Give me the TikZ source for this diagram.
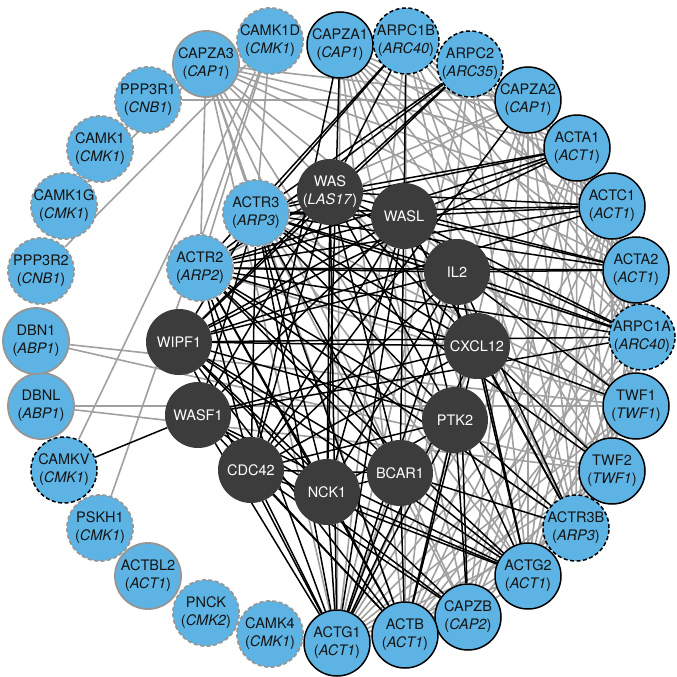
\documentclass[tikz,border=0pt]{standalone}
\usepackage{fontspec}
\setmainfont{TeX Gyre Heros}
\pgfdeclarelayer{bg}
\pgfdeclarelayer{edges}
\pgfsetlayers{bg,edges,main}
\definecolor{nodeblue}{RGB}{93,180,228}
\definecolor{darknode}{RGB}{60,60,60}
\definecolor{edgegray}{RGB}{160,160,160}
\definecolor{bordergray}{RGB}{150,150,150}
\definecolor{labelink}{RGB}{20,20,20}
\newcommand\glab[2]{\makebox[50pt]{#1}\\\makebox[50pt]{(\textit{#2})}}
\tikzset{
  basenode/.style={circle, minimum size=66pt, inner sep=0pt, align=center,
    font=\fontsize{14.5}{18}\selectfont},
  bsolid/.style={basenode, fill=nodeblue, draw=black, line width=1.5pt, text=labelink},
  bdash/.style={basenode, fill=nodeblue, draw=black, line width=1.5pt, dash pattern=on 4pt off 2.5pt, text=labelink},
  gsolid/.style={basenode, fill=nodeblue, draw=bordergray, line width=1.8pt, text=labelink},
  gdash/.style={basenode, fill=nodeblue, draw=bordergray, line width=1.8pt, dash pattern=on 4pt off 2.5pt, text=labelink},
  darkn/.style={basenode, fill=darknode, text=white},
  gedge/.style={draw=edgegray, line width=1.6pt},
  kedge/.style={draw=black, line width=1.5pt},
}
\begin{document}
\begin{tikzpicture}[x=1pt,y=-1pt]
\begin{pgfonlayer}{bg}
\fill[white] (0,0) rectangle (677,677);
\end{pgfonlayer}
\useasboundingbox (0,0) rectangle (677,677);
% outer ring
\node[bsolid] (capza1) at (340,45) {\glab{CAPZA1}{CAP1}};
\node[bdash]  (arpc1b) at (406,41) {\glab{ARPC1B}{ARC40}};
\node[bdash]  (arpc2)  at (470,64) {\glab{ARPC2}{ARC35}};
\node[bsolid] (capza2) at (528,100) {\glab{CAPZA2}{CAP1}};
\node[bsolid] (acta1)  at (577,148) {\glab{ACTA1}{ACT1}};
\node[bsolid] (actc1)  at (612,206) {\glab{ACTC1}{ACT1}};
\node[bsolid] (acta2)  at (636,270) {\glab{ACTA2}{ACT1}};
\node[bdash]  (arpc1a) at (642,337) {\glab{ARPC1A}{ARC40}};
\node[bsolid] (twf1)   at (636,406) {\glab{TWF1}{TWF1}};
\node[bsolid] (twf2)   at (612,471) {\glab{TWF2}{TWF1}};
\node[bdash]  (actr3b) at (576,528) {\glab{ACTR3B}{ARP3}};
\node[bsolid] (actg2)  at (528,576) {\glab{ACTG2}{ACT1}};
\node[bsolid] (capzb)  at (468,617) {\glab{CAPZB}{CAP2}};
\node[bsolid] (actb)   at (405,635) {\glab{ACTB}{ACT1}};
\node[bsolid] (actg1)  at (337,643) {\glab{ACTG1}{ACT1}};
\node[gdash]  (camk4)  at (270,634) {\glab{CAMK4}{CMK1}};
\node[gdash]  (pnck)   at (206,613) {\glab{PNCK}{CMK2}};
\node[gsolid] (actbl2) at (148,576) {\glab{ACTBL2}{ACT1}};
\node[gdash]  (pskh1)  at (100,528) {\glab{PSKH1}{CMK1}};
\node[bdash]  (camkv)  at (64,470) {\glab{CAMKV}{CMK1}};
\node[gsolid] (dbnl)   at (41,406) {\glab{DBNL}{ABP1}};
\node[gsolid] (dbn1)   at (36,341) {\glab{DBN1}{ABP1}};
\node[gdash]  (ppp3r2) at (41,271) {\glab{PPP3R2}{CNB1}};
\node[gdash]  (camk1g) at (64,206) {\glab{CAMK1G}{CMK1}};
\node[gdash]  (camk1)  at (100,149) {\glab{CAMK1}{CMK1}};
\node[gdash]  (ppp3r1) at (148,100) {\glab{PPP3R1}{CNB1}};
\node[gsolid] (capza3) at (206,64) {\glab{CAPZA3}{CAP1}};
\node[gdash]  (camk1d) at (270,41) {\glab{CAMK1D}{CMK1}};
% inner ring
\node[darkn] (was)    at (330,192) {\glab{WAS}{LAS17}};
\node[darkn] (wasl)   at (404,216) {WASL};
\node[darkn] (il2)    at (457,272) {IL2};
\node[darkn] (cxcl12) at (477,346) {CXCL12};
\node[darkn] (ptk2)   at (455,420) {PTK2};
\node[darkn] (bcar1)  at (400,473) {BCAR1};
\node[darkn] (nck1)   at (327,492) {NCK1};
\node[darkn] (cdc42)  at (251,470) {CDC42};
\node[darkn] (wasf1)  at (198,415) {WASF1};
\node[darkn] (wipf1)  at (179,342) {WIPF1};
\node[gdash] (actr2)  at (200,268) {\glab{ACTR2}{ARP2}};
\node[gdash] (actr3)  at (256,213) {\glab{ACTR3}{ARP3}};
\begin{pgfonlayer}{edges}
% gray edges
\foreach \a/\b in {camk1/capza3, camk1g/capza3, ppp3r2/camk1d, camkv/camk1d, pskh1/camk1d,
  ppp3r1/capza2, dbn1/twf1, dbn1/twf2, dbnl/twf1, dbnl/twf2,
  capza3/capza2, capza3/actr3, capza3/actr2, capza3/acta1, capza3/actc1, capza3/acta2,
  capza3/twf1, capza3/twf2, capza3/actg2, capza3/capzb, capza3/actb, capza3/actg1,
  camk1d/actr2, camk1d/actr3,
  acta1/acta2, acta1/actg2, acta1/actb, acta1/actg1, actc1/actg2, actc1/actb, actc1/actg1,
  acta2/actb, acta2/actg1, actg2/actg1, acta2/actg2,
  arpc1b/arpc1a, arpc1b/actr3b, arpc2/arpc1a, arpc2/actr3b, arpc1a/actr3b,
  capza1/capzb, capza2/capzb, capza1/twf1, capza1/twf2, capza2/twf2, capzb/twf1, capzb/twf2,
  capza1/arpc1a, capza1/actr3b, capza2/actr3b, arpc1b/twf2,
  actr3/twf1, actr3/capzb, actr2/twf1, actr2/actr3b, actr3/actg2, actr2/capza2, actr3/capza2, actr2/acta2, actr3/arpc1a}
  \draw[gedge] (\a) -- (\b);
\foreach \a in {acta1, actc1, acta2, actg2, actb, actg1}
  \foreach \b in {arpc1b, arpc2, arpc1a, actr3b, capza1, capza2, capzb, twf1, twf2}
    \draw[gedge] (\a) -- (\b);
% black edges
\foreach \a/\b in {was/wipf1, was/cdc42, was/nck1, was/ptk2, was/cxcl12, was/il2, was/bcar1, was/wasf1,
  wasl/wipf1, wasl/cdc42, wasl/nck1, wasl/ptk2, wasl/bcar1, wasl/wasf1, wasl/cxcl12,
  il2/wipf1, il2/cdc42, il2/nck1, cxcl12/wipf1, cxcl12/cdc42, cxcl12/wasf1,
  ptk2/cdc42, ptk2/wipf1, ptk2/nck1, bcar1/nck1, bcar1/cdc42, bcar1/wipf1, nck1/wipf1, nck1/wasf1,
  actr3/was, actr3/wasl, actr3/il2, actr3/cxcl12, actr3/ptk2, actr3/bcar1, actr3/nck1, actr3/wipf1, actr3/wasf1, actr3/cdc42,
  actr2/was, actr2/wasl, actr2/il2, actr2/cxcl12, actr2/ptk2, actr2/bcar1, actr2/nck1, actr2/cdc42,
  capza1/cdc42, capza1/nck1,
  arpc1b/actr3, arpc1b/actr2, arpc1b/wasl, arpc1b/was,
  arpc2/actr3, arpc2/actr2, arpc2/was, arpc2/wipf1,
  capza2/cdc42,
  acta1/was, acta1/actr3, acta1/actr2, acta1/wipf1, acta1/wasl,
  actc1/was, actc1/wasl, actc1/actr3, actc1/actr2, actc1/wipf1,
  acta2/was, acta2/wasl, acta2/actr3, acta2/actr2, acta2/il2,
  arpc1a/wipf1, arpc1a/wasl, arpc1a/il2, arpc1a/was, arpc1a/actr3, arpc1a/actr2, arpc1a/wasf1,
  twf1/cxcl12, twf1/il2, twf2/actr3, twf2/cxcl12,
  actr3b/ptk2, actr3b/cxcl12, actr3b/il2, actr3b/wasl, actr3b/actr2, actr3b/bcar1,
  actg2/bcar1, actg2/ptk2, actg2/nck1, actg2/cdc42, actg2/wasf1, actg2/wipf1, actg2/actr2, actg2/il2, actg2/cxcl12,
  capzb/wipf1, capzb/wasf1, capzb/cdc42, capzb/ptk2, capzb/il2,
  actb/wasf1, actb/cdc42, actb/nck1, actb/wipf1, actb/bcar1, actb/ptk2, actb/cxcl12, actb/actr3, actb/actr2,
  actg1/was, actg1/wasl, actg1/cdc42, actg1/nck1, actg1/wasf1, actg1/wipf1, actg1/actr2, actg1/actr3,
  actg1/bcar1, actg1/ptk2, actg1/il2, actg1/cxcl12,
  camkv/wasf1}
  \draw[kedge] (\a) -- (\b);
\end{pgfonlayer}
\end{tikzpicture}
\end{document}
